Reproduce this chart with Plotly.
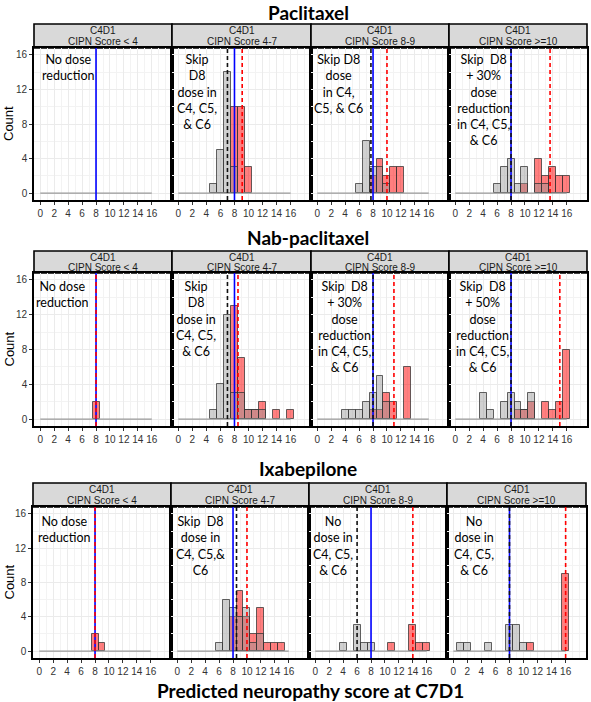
import plotly.graph_objects as go

W, H = 591, 702

# ---------------- data ----------------
SCORES = list(range(0, 17))          # histogram bin centres (score 0..16)
SCORE_MIN, SCORE_MAX = 0, 16
X_TICKS = list(range(0, 17, 2))
Y_TICKS = [0, 4, 8, 12, 16]
THRESHOLD = 8                          # blue solid reference line

DRUGS = ["Paclitaxel", "Nab-paclitaxel", "Ixabepilone"]
STRIP_TOP = "C4D1"
STRIP_LABELS = ["CIPN Score &lt; 4", "CIPN Score 4-7", "CIPN Score 8-9", "CIPN Score &gt;=10"]
X_TITLE = "Predicted neuropathy score at C7D1"
Y_TITLE = "Count"

#                0 1 2 3 4 5 6 7  8  9 10 11 12 13 14 15 16
PAC_LT4_GRAY  = [0,0,0,0,0,0,0,0, 0, 0, 0, 0, 0, 0, 0, 0, 0]
PAC_LT4_RED   = [0,0,0,0,0,0,0,0, 0, 0, 0, 0, 0, 0, 0, 0, 0]
PAC_47_GRAY   = [0,0,0,0,0,1,5,14,3, 0, 0, 0, 0, 0, 0, 0, 0]
PAC_47_RED    = [0,0,0,0,0,0,0,0,10,10, 3, 0, 0, 0, 0, 0, 0]
PAC_89_GRAY   = [0,0,0,0,0,0,1,6, 3, 3, 1, 0, 0, 0, 0, 0, 0]
PAC_89_RED    = [0,0,0,0,0,0,0,0, 2, 4, 2, 3, 3, 0, 0, 0, 0]
PAC_GE10_GRAY = [0,0,0,0,0,0,1,3, 4, 1, 3, 0, 1, 1, 0, 0, 0]
PAC_GE10_RED  = [0,0,0,0,0,0,0,0, 0, 0, 1, 0, 4, 2, 3, 2, 2]

NAB_LT4_GRAY  = [0,0,0,0,0,0,0,0, 0, 0, 0, 0, 0, 0, 0, 0, 0]
NAB_LT4_RED   = [0,0,0,0,0,0,0,0, 2, 0, 0, 0, 0, 0, 0, 0, 0]
NAB_47_GRAY   = [0,0,0,0,0,1,4,12,3, 3, 1, 1, 1, 0, 0, 0, 0]
NAB_47_RED    = [0,0,0,0,0,0,0,0,13, 7, 1, 1, 2, 0, 1, 0, 1]
NAB_89_GRAY   = [0,0,0,0,1,1,1,2, 3, 5, 2, 0, 0, 0, 0, 0, 0]
NAB_89_RED    = [0,0,0,0,0,0,0,0, 1, 1, 3, 2, 0, 6, 0, 0, 0]
NAB_GE10_GRAY = [0,0,0,0,3,1,0,2, 3, 2, 1, 3, 0, 0, 0, 0, 0]
NAB_GE10_RED  = [0,0,0,0,0,0,0,0, 0, 1, 1, 2, 0, 2, 1, 2, 8]

IXA_LT4_GRAY  = [0,0,0,0,0,0,0,0, 0, 0, 0, 0, 0, 0, 0, 0, 0]
IXA_LT4_RED   = [0,0,0,0,0,0,0,0, 2, 1, 0, 0, 0, 0, 0, 0, 0]
IXA_47_GRAY   = [0,0,0,0,0,0,1,6, 5, 4, 5, 1, 2, 0, 0, 0, 0]
IXA_47_RED    = [0,0,0,0,0,0,0,0, 4, 7, 4, 2, 5, 1, 1, 1, 0]
IXA_89_GRAY   = [0,0,0,0,1,0,3,1, 1, 0, 0, 0, 0, 0, 0, 0, 0]
IXA_89_RED    = [0,0,0,0,0,0,0,0, 0, 0, 0, 1, 0, 0, 3, 1, 1]
IXA_GE10_GRAY = [0,1,1,0,0,1,0,0, 3, 3, 1, 0, 0, 0, 0, 0, 0]
IXA_GE10_RED  = [0,0,0,0,0,0,0,0, 0, 0, 0, 1, 0, 0, 0, 0, 9]

# dashed mean lines (black = gray group, red = red group)
PAC_BLACK = [None, 7.0, 7.7, 8.0]
PAC_RED   = [None, 9.1, 10.0, 13.6]
NAB_BLACK = [None, 7.0, 8.0, 8.0]
NAB_RED   = [8.0, 8.5, 11.0, 15.0]
IXA_BLACK = [None, 8.5, 6.0, 8.0]
IXA_RED   = [8.0, 10.0, 14.0, 16.0]

PAC_NOTES = ["No dose<br>reduction",
             "Skip<br>D8<br>dose in<br>C4, C5,<br>&amp; C6",
             "Skip D8<br>dose<br>in C4,<br>C5, &amp; C6",
             "Skip  D8<br>+ 30%<br>dose<br>reduction<br>in C4, C5,<br>&amp; C6"]
NAB_NOTES = ["No dose<br>reduction",
             "Skip<br>D8<br>dose in<br>C4, C5,<br>&amp; C6",
             "Skip  D8<br>+ 30%<br>dose<br>reduction<br>in C4, C5,<br>&amp; C6",
             "Skip  D8<br>+ 50%<br>dose<br>reduction<br>in C4, C5,<br>&amp; C6"]
IXA_NOTES = ["No dose<br>reduction",
             "Skip  D8<br>dose in<br>C4, C5,&amp;<br>C6",
             "No<br>dose in<br>C4, C5,<br>&amp; C6",
             "No<br>dose in<br>C4, C5,<br>&amp; C6"]

GRAY = [[PAC_LT4_GRAY, PAC_47_GRAY, PAC_89_GRAY, PAC_GE10_GRAY],
        [NAB_LT4_GRAY, NAB_47_GRAY, NAB_89_GRAY, NAB_GE10_GRAY],
        [IXA_LT4_GRAY, IXA_47_GRAY, IXA_89_GRAY, IXA_GE10_GRAY]]
RED = [[PAC_LT4_RED, PAC_47_RED, PAC_89_RED, PAC_GE10_RED],
       [NAB_LT4_RED, NAB_47_RED, NAB_89_RED, NAB_GE10_RED],
       [IXA_LT4_RED, IXA_47_RED, IXA_89_RED, IXA_GE10_RED]]
BLACKS = [PAC_BLACK, NAB_BLACK, IXA_BLACK]
REDS = [PAC_RED, NAB_RED, IXA_RED]
NOTES = [PAC_NOTES, NAB_NOTES, IXA_NOTES]

# ---------------- layout geometry (pixels in the reference) ----------------
COLS_PX = [[(34, 172), (172, 311), (311, 449), (449, 587)],
           [(34, 172), (172, 311), (311, 449), (449, 587)],
           [(33, 171), (171, 309), (309, 447), (447, 586)]]
PLOT_Y_PX = [(48, 200), (273, 426), (507, 658)]
STRIP_Y_PX = [(24, 48), (251, 273), (483, 507)]
TITLE_Y_PX = [12, 237, 468]
NOTE_X = [[4.0, 2.7, 3.1, 4.0], [3.25, 2.55, 3.9, 3.9], [3.6, 3.3, 2.6, 3.0]]
NOTE_TOP = [0.985, 0.975, 0.965]

X_RANGE = [-0.9, 18.9]
Y_RANGE = [-0.8, 16.8]


def fx(px):
    return px / W


def fy(py):
    return 1 - py / H


fig = go.Figure()
layout = dict(
    width=W, height=H, margin=dict(l=0, r=0, t=0, b=0, autoexpand=False),
    paper_bgcolor="white", plot_bgcolor="white", showlegend=False,
    barmode="overlay", bargap=0,
)
shapes = []
annotations = []

GRAY_FILL = "rgba(150,150,150,0.45)"
RED_FILL = "rgba(255,0,0,0.5)"
EDGE = "rgba(50,50,50,0.75)"

for r in range(3):
    for c in range(4):
        k = r * 4 + c + 1
        suf = "" if k == 1 else str(k)
        xa, ya = f"x{suf}", f"y{suf}"
        xl, yl = f"xaxis{suf}", f"yaxis{suf}"
        x0p, x1p = COLS_PX[r][c]
        y0p, y1p = PLOT_Y_PX[r]
        layout[xl] = dict(
            domain=[fx(x0p), fx(x1p)], range=X_RANGE, anchor=ya,
            tickmode="array", tickvals=X_TICKS, ticktext=[str(v) for v in X_TICKS],
            showgrid=True, gridcolor="#EBEBEB", gridwidth=1,
            minor=dict(dtick=1, tick0=0, showgrid=True, gridcolor="#F3F3F3", gridwidth=0.6),
            showline=True, mirror=True, linecolor="black", linewidth=1.6,
            ticks="outside", ticklen=3, tickcolor="#333333", tickwidth=1,
            tickfont=dict(family="Arial, Liberation Sans", size=10, color="#333333"),
            zeroline=False, fixedrange=True, tickangle=0,
        )
        layout[yl] = dict(
            domain=[fy(y1p), fy(y0p)], range=Y_RANGE, anchor=xa,
            tickmode="array", tickvals=Y_TICKS, ticktext=[str(v) for v in Y_TICKS],
            showticklabels=(c == 0),
            showgrid=True, gridcolor="#EBEBEB", gridwidth=1,
            minor=dict(dtick=2, tick0=0, showgrid=True, gridcolor="#F3F3F3", gridwidth=0.6),
            showline=True, mirror=True, linecolor="black", linewidth=1.6,
            ticks="outside" if c == 0 else "", ticklen=3, tickcolor="#333333",
            tickfont=dict(family="Arial, Liberation Sans", size=10, color="#333333"),
            zeroline=False, fixedrange=True,
        )

        # baseline of the histogram
        fig.add_trace(go.Scatter(x=[SCORE_MIN, SCORE_MAX], y=[0, 0], mode="lines",
                                 line=dict(color="#9A9A9A", width=1.2),
                                 xaxis=xa, yaxis=ya, hoverinfo="skip"))
        # red histogram
        rx = [s for s, n in zip(SCORES, RED[r][c]) if n > 0]
        ry = [n for n in RED[r][c] if n > 0]
        if rx:
            fig.add_trace(go.Bar(x=rx, y=ry, width=1, xaxis=xa, yaxis=ya,
                                 marker=dict(color=RED_FILL, line=dict(color=EDGE, width=1))))
        # gray histogram
        gx = [s for s, n in zip(SCORES, GRAY[r][c]) if n > 0]
        gy = [n for n in GRAY[r][c] if n > 0]
        if gx:
            fig.add_trace(go.Bar(x=gx, y=gy, width=1, xaxis=xa, yaxis=ya,
                                 marker=dict(color=GRAY_FILL, line=dict(color=EDGE, width=1))))

        # vertical lines
        shapes.append(dict(type="line", xref=xa, yref=f"{ya} domain", x0=THRESHOLD, x1=THRESHOLD,
                           y0=0, y1=1, line=dict(color="#0000FF", width=1.6)))
        if BLACKS[r][c] is not None:
            shapes.append(dict(type="line", xref=xa, yref=f"{ya} domain", x0=BLACKS[r][c], x1=BLACKS[r][c],
                               y0=0, y1=1, line=dict(color="#111111", width=1.6, dash="4px,3px")))
        if REDS[r][c] is not None:
            shapes.append(dict(type="line", xref=xa, yref=f"{ya} domain", x0=REDS[r][c], x1=REDS[r][c],
                               y0=0, y1=1, line=dict(color="#FF0000", width=1.6, dash="4px,3px")))

        # strip
        s0, s1 = STRIP_Y_PX[r]
        shapes.append(dict(type="rect", xref="paper", yref="paper",
                           x0=fx(x0p), x1=fx(x1p), y0=fy(s1), y1=fy(s0),
                           fillcolor="#D9D9D9", line=dict(color="black", width=1.6), layer="below"))
        sh = s1 - s0
        annotations.append(dict(xref="paper", yref="paper", x=fx((x0p + x1p) / 2),
                                y=fy(s0 + sh * 0.29), text=STRIP_TOP, showarrow=False,
                                xanchor="center", yanchor="middle",
                                font=dict(family="Arial, Liberation Sans", size=10, color="#1A1A1A")))
        annotations.append(dict(xref="paper", yref="paper", x=fx((x0p + x1p) / 2),
                                y=fy(s0 + sh * 0.74), text=STRIP_LABELS[c], showarrow=False,
                                xanchor="center", yanchor="middle",
                                font=dict(family="Arial, Liberation Sans", size=10, color="#1A1A1A")))

        # note text
        annotations.append(dict(xref=xa, yref=f"{ya} domain", x=NOTE_X[r][c], y=NOTE_TOP[r],
                                text=NOTES[r][c], showarrow=False, xanchor="center", yanchor="top",
                                align="center",
                                font=dict(family="Lato, Carlito, Open Sans", size=12.5, color="black")))

    # row title
    annotations.append(dict(xref="paper", yref="paper", x=fx(308), y=fy(TITLE_Y_PX[r]),
                            text=f"<b>{DRUGS[r]}</b>", showarrow=False, xanchor="center", yanchor="middle",
                            font=dict(family="Lato, Open Sans", size=19, color="black")))
    # y title
    y0p, y1p = PLOT_Y_PX[r]
    annotations.append(dict(xref="paper", yref="paper", x=fx(9), y=fy((y0p + y1p) / 2),
                            text=Y_TITLE, showarrow=False, textangle=-90,
                            xanchor="center", yanchor="middle",
                            font=dict(family="Arial, Liberation Sans", size=13, color="black")))

annotations.append(dict(xref="paper", yref="paper", x=fx(310), y=fy(690),
                        text=f"<b>{X_TITLE}</b>", showarrow=False, xanchor="center", yanchor="middle",
                        font=dict(family="Lato, Open Sans", size=19, color="black")))

layout["shapes"] = shapes
layout["annotations"] = annotations
fig.update_layout(**layout)
fig.write_html("out.html", config={"displayModeBar": False},
               post_script="document.body.style.margin='0px';document.body.style.padding='0px';")
